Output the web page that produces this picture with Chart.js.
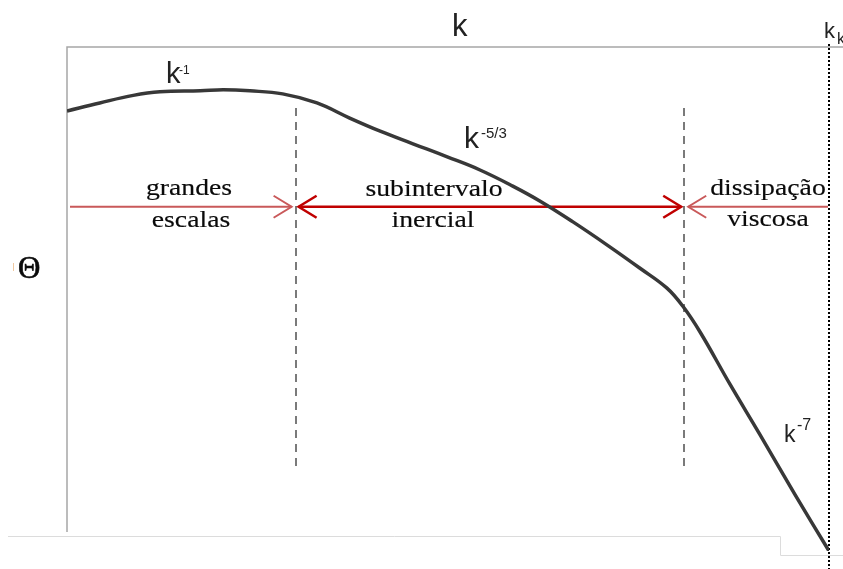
<!DOCTYPE html>
<html>
<head>
<meta charset="utf-8">
<script src="https://cdn.jsdelivr.net/npm/chart.js@4/dist/chart.umd.min.js"></script>
<style>
  html, body { margin: 0; padding: 0; background: #fff; }
  canvas { display: block; }
</style>
</head>
<body>
<canvas id="spectrum" width="843" height="569"></canvas>
<script>
// wavenumber (log scale, arbitrary units) and spectrum level
const kVals = [0, 0.43, 0.87, 1.22, 1.75, 2.05, 2.40, 2.83, 3.28, 3.71, 4.11, 4.54, 4.99,
               5.42, 5.85, 6.21, 6.64, 7.09, 7.52, 7.87, 8.08, 8.31, 8.70, 9.09, 9.55, 10];
const spectrum = [8.73, 8.89, 9.04, 9.11, 9.13, 9.15, 9.13, 9.07, 8.89, 8.59, 8.33, 8.08, 7.82,
                  7.56, 7.24, 6.94, 6.53, 6.07, 5.61, 5.22, 4.86, 4.34, 3.31, 2.32, 1.13, 0];

// limits of the three ranges and the labels drawn in them
const rangeBounds = [0, 3.0, 8.1, 10];
const rangeLabels = [["grandes", "escalas"], ["subintervalo", "inercial"], ["dissipação", "viscosa"]];
const slopeLabels = [["k", "-1"], ["k", "-5/3"], ["k", "-7"]];

const ARROW_Y = 6.83;
const DASH_TOP = 8.79, DASH_BOTTOM = 1.57;

function chevron(ctx, x, y, dir) {
  ctx.beginPath();
  ctx.moveTo(x - dir * 18, y - 11);
  ctx.lineTo(x, y);
  ctx.lineTo(x - dir * 18, y + 11);
  ctx.stroke();
}

function serifText(ctx, txt, cx, base) {
  ctx.save();
  ctx.translate(cx, base);
  ctx.scale(1.18, 1);
  ctx.font = '23.5px "Liberation Serif", "Times New Roman", serif';
  ctx.textAlign = 'center';
  ctx.textBaseline = 'alphabetic';
  ctx.fillStyle = '#0a0a0a';
  ctx.strokeStyle = '#0a0a0a';
  ctx.lineWidth = 0.15;
  ctx.fillText(txt, 0, 0);
  ctx.strokeText(txt, 0, 0);
  ctx.restore();
}

function powerLabel(ctx, lbl, x, base, size, supX, supBase, supSize) {
  ctx.fillStyle = '#222';
  ctx.textAlign = 'left';
  ctx.textBaseline = 'alphabetic';
  ctx.font = size + 'px "Liberation Sans", Arial, sans-serif';
  ctx.fillText(lbl[0], x, base);
  ctx.font = supSize + 'px "Liberation Sans", Arial, sans-serif';
  ctx.fillText(lbl[1], supX, supBase);
}

const sketch = {
  id: 'sketch',
  beforeDatasetsDraw(chart) {
    const ctx = chart.ctx;
    const xs = chart.scales.x, ys = chart.scales.y;
    const area = chart.chartArea;
    ctx.save();

    // frame
    ctx.strokeStyle = '#a6a6a6';
    ctx.lineWidth = 1.5;
    ctx.beginPath();
    ctx.moveTo(area.left, 532);
    ctx.lineTo(area.left, area.top);
    ctx.lineTo(843, area.top);
    ctx.stroke();

    ctx.strokeStyle = '#dcdcdc';
    ctx.lineWidth = 1;
    ctx.beginPath();
    ctx.moveTo(8, 536.5);
    ctx.lineTo(780.5, 536.5);
    ctx.lineTo(780.5, 555.5);
    ctx.lineTo(843, 555.5);
    ctx.stroke();

    // dashed range limits
    ctx.strokeStyle = '#7a7a7a';
    ctx.lineWidth = 2;
    ctx.setLineDash([8, 6]);
    for (const b of rangeBounds.slice(1, 3)) {
      const px = Math.round(xs.getPixelForValue(b));
      ctx.beginPath();
      ctx.moveTo(px, ys.getPixelForValue(DASH_TOP));
      ctx.lineTo(px, ys.getPixelForValue(DASH_BOTTOM));
      ctx.stroke();
    }

    // dotted line at the end of the spectrum
    ctx.strokeStyle = '#000';
    ctx.setLineDash([2, 2]);
    const kEnd = Math.round(xs.getPixelForValue(rangeBounds[3]));
    ctx.beginPath();
    ctx.moveTo(kEnd, 44);
    ctx.lineTo(kEnd, 569);
    ctx.stroke();
    ctx.setLineDash([]);

    // arrows
    const ay = ys.getPixelForValue(ARROW_Y);
    const b1 = xs.getPixelForValue(rangeBounds[1]);
    const b2 = xs.getPixelForValue(rangeBounds[2]);
    ctx.lineCap = 'butt';
    ctx.strokeStyle = '#c9595a';
    ctx.lineWidth = 2;
    ctx.beginPath();
    ctx.moveTo(area.left + 3, ay);
    ctx.lineTo(b1 - 4, ay);
    ctx.moveTo(kEnd - 1, ay);
    ctx.lineTo(b2 + 4, ay);
    ctx.stroke();
    chevron(ctx, b1 - 4, ay, 1);
    chevron(ctx, b2 + 4, ay, -1);

    ctx.strokeStyle = '#c00000';
    ctx.lineWidth = 2.5;
    ctx.beginPath();
    ctx.moveTo(b1 + 3, ay);
    ctx.lineTo(b2 - 3, ay);
    ctx.stroke();
    chevron(ctx, b1 + 3, ay, -1);
    chevron(ctx, b2 - 3, ay, 1);

    // range labels
    serifText(ctx, rangeLabels[0][0], 189, 195);
    serifText(ctx, rangeLabels[0][1], 191, 227);
    serifText(ctx, rangeLabels[1][0], 434, 196);
    serifText(ctx, rangeLabels[1][1], 433, 227);
    serifText(ctx, rangeLabels[2][0], 768, 195);
    serifText(ctx, rangeLabels[2][1], 768, 226);

    // axis names
    ctx.fillStyle = '#222';
    ctx.font = '31px "Liberation Sans", Arial, sans-serif';
    ctx.textAlign = 'left';
    ctx.fillText('k', 452, 36);
    ctx.font = '22px "Liberation Sans", Arial, sans-serif';
    ctx.fillText('k', 824, 38);
    ctx.font = '16px "Liberation Sans", Arial, sans-serif';
    ctx.fillText('k', 837, 44);

    ctx.fillStyle = '#0a0a0a';
    ctx.strokeStyle = '#0a0a0a';
    ctx.lineWidth = 0.6;
    ctx.font = '31px "Liberation Serif", "Times New Roman", serif';
    ctx.fillText('Θ', 18, 278);
    ctx.strokeText('Θ', 18, 278);
    ctx.strokeStyle = '#f0c8a0';
    ctx.lineWidth = 1;
    ctx.beginPath();
    ctx.moveTo(13.5, 263);
    ctx.lineTo(13.5, 271);
    ctx.stroke();

    // slope labels
    powerLabel(ctx, slopeLabels[0], 166, 83, 29, 179, 74, 12);
    powerLabel(ctx, slopeLabels[1], 464, 148, 30, 481, 138, 15);
    powerLabel(ctx, slopeLabels[2], 784, 442, 23, 797, 430, 16);

    ctx.restore();
  }
};

new Chart(document.getElementById('spectrum'), {
  type: 'line',
  data: {
    datasets: [{
      data: kVals.map((k, i) => ({ x: k, y: spectrum[i] })),
      borderColor: '#383838',
      borderWidth: 3.5,
      pointRadius: 0,
      tension: 0.4,
      fill: false
    }]
  },
  options: {
    responsive: false,
    animation: false,
    layout: { padding: { left: 67, right: 14, top: 47, bottom: 18 } },
    plugins: { legend: { display: false }, tooltip: { enabled: false } },
    scales: {
      x: { type: 'linear', min: 0, max: 10, display: false },
      y: { type: 'linear', min: 0, max: 10, display: false }
    }
  },
  plugins: [sketch]
});
</script>
</body>
</html>
